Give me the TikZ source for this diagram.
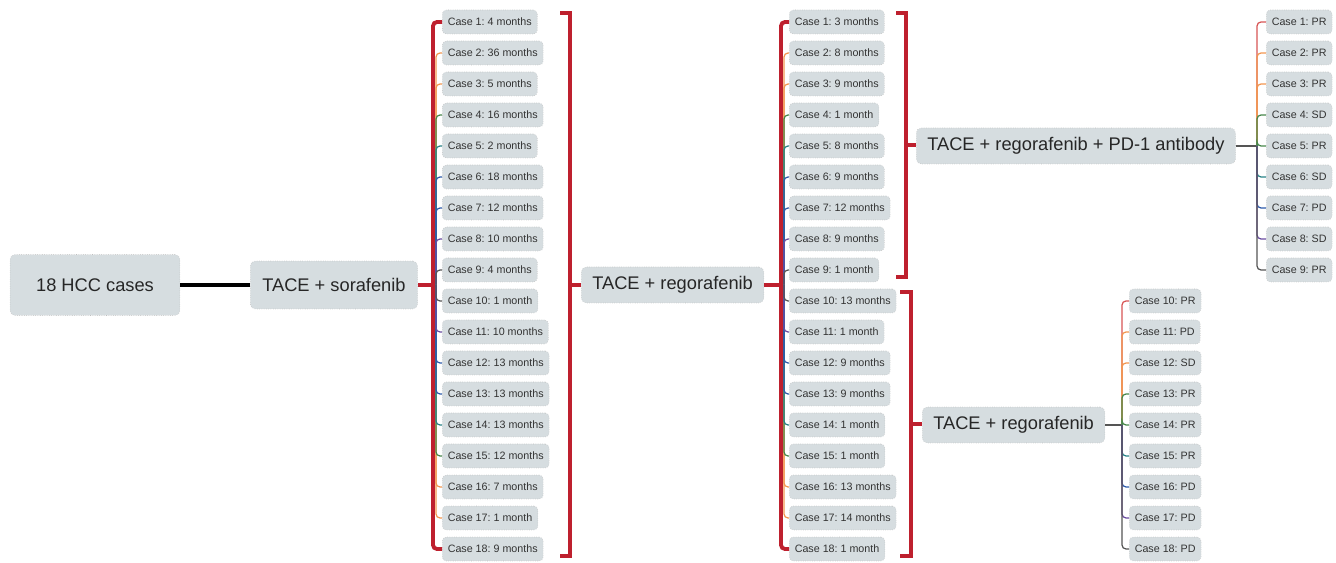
\documentclass[tikz,border=0pt]{standalone}
\usepackage{fontspec}
\setmainfont{Liberation Sans}
\frenchspacing

\definecolor{boxfill}{RGB}{214,221,224}
\definecolor{braceRed}{RGB}{190,32,46}
\definecolor{brRed}{RGB}{215,85,85}
\definecolor{brOrange}{RGB}{242,150,80}
\definecolor{brGreen}{RGB}{70,135,75}
\definecolor{brTeal}{RGB}{40,130,135}
\definecolor{brBlue}{RGB}{45,90,170}
\definecolor{brPurple}{RGB}{105,75,160}
\definecolor{brGray}{RGB}{85,85,85}

\tikzset{
    bigbox/.style={draw=gray!50, densely dotted, line width=0.3pt, fill=boxfill, rounded corners=0.1cm,
        font=\fontsize{10.4}{12}\selectfont, text=black!85, inner xsep=0.22cm, minimum height=0.72cm},
    casebox/.style={draw=gray!50, densely dotted, line width=0.3pt, fill=boxfill, rounded corners=0.08cm,
        font=\fontsize{6.1}{7}\selectfont, text=black!80, inner xsep=0.11cm, minimum height=0.48cm, anchor=west},
    redline/.style={draw=braceRed, line width=2.2pt},
    branch/.style={line width=0.7pt, rounded corners=0.08cm},
}

\begin{document}
\begin{tikzpicture}[x=0.02cm, y=-0.02cm]
    \useasboundingbox (0,0) rectangle (1336,563);

    % Root and first line treatment
    \node [bigbox, minimum width=3.4cm, minimum height=1.22cm] (hcc) at (95,285) {18 HCC cases};
    \node [bigbox, anchor=west, minimum height=0.96cm, inner xsep=0.24cm] (sor) at (250,285) {TACE + sorafenib};
    \draw [line width=2pt] (hcc) -- (sor);

    % Sorafenib: time per case
    \foreach \m [count=\k] in {4 months,36 months,5 months,16 months,2 months,18 months,12 months,10 months,4 months,1 month,10 months,13 months,13 months,13 months,12 months,7 months,1 month,9 months}
        \node [casebox] (sor\k) at (442,{22+31*(\k-1)}) {Case \k: \m};
    \coordinate (sorT) at (433,285);
    \coordinate (sorJ) at (436,285);
    \draw [redline] (sor.east) -- (sorT);
    \draw [redline, rounded corners=0.08cm] (sor1.west) -| (sorT) |- (sor18.west);
    \foreach \k/\c in {2/brOrange,3/brOrange,4/brGreen,5/brTeal,6/brBlue,7/brBlue,8/brPurple,9/brGray,17/brOrange,16/brOrange,15/brGreen,14/brTeal,13/brBlue,12/brBlue,11/brPurple,10/brGray}
        \draw [branch, \c] (sorJ) |- (sor\k.west);

    % Bracket to second line
    \coordinate (sorBt) at (560,13);
    \coordinate (sorBm) at (570,285);
    \coordinate (sorBb) at (560,556);
    \draw [redline] (sorBt) -| (sorBm) |- (sorBb);
    \node [bigbox, anchor=west] (reg) at (581,285) {TACE + regorafenib};
    \draw [redline] (sorBm) -- (reg);

    % Regorafenib: time per case
    \foreach \m [count=\k] in {3 months,8 months,9 months,1 month,8 months,9 months,12 months,9 months,1 month,13 months,1 month,9 months,9 months,1 month,1 month,13 months,14 months,1 month}
        \node [casebox] (reg\k) at (789,{22+31*(\k-1)}) {Case \k: \m};
    \coordinate (regT) at (781,285);
    \coordinate (regJ) at (784,285);
    \draw [redline] (reg.east) -- (regT);
    \draw [redline, rounded corners=0.08cm] (reg1.west) -| (regT) |- (reg18.west);
    \foreach \k/\c in {2/brOrange,3/brOrange,4/brGreen,5/brTeal,6/brBlue,7/brBlue,8/brPurple,9/brGray,17/brOrange,16/brOrange,15/brGreen,14/brTeal,13/brBlue,12/brBlue,11/brPurple,10/brGray}
        \draw [branch, \c] (regJ) |- (reg\k.west);

    % Brackets to third line
    \coordinate (pdBt) at (896,13);
    \coordinate (pdBm) at (906,145);
    \coordinate (pdBb) at (896,277);
    \draw [redline] (pdBt) -| (pdBm) |- (pdBb);
    \coordinate (rgBt) at (900,292);
    \coordinate (rgBm) at (911,424);
    \coordinate (rgBb) at (900,556);
    \draw [redline] (rgBt) -| (rgBm) |- (rgBb);

    \node [bigbox, anchor=west] (pd) at (916,146) {TACE + regorafenib + PD-1 antibody};
    \node [bigbox, anchor=west] (rg) at (922,425) {TACE + regorafenib};
    \draw [redline] (pdBm) -- (pd.west |- pdBm);
    \draw [redline] (rgBm) -- (rg.west |- rgBm);

    % Responses, cases 1-9
    \foreach \r [count=\k] in {PR,PR,PR,SD,PR,SD,PD,SD,PR}
        \node [casebox] (pdr\k) at (1266,{22+31*(\k-1)}) {Case \k: \r};
    \coordinate (pdJ) at (1257,146);
    \draw [brGray, line width=0.7pt] (pd.east) -- (pdJ);
    \foreach \k/\c in {1/brRed,2/brOrange,3/brOrange,4/brGreen,5/brGreen,6/brTeal,7/brBlue,8/brPurple,9/brGray}
        \draw [branch, \c] (pdJ) |- (pdr\k.west);

    % Responses, cases 10-18
    \foreach \r [count=\k from 10] in {PR,PD,SD,PR,PR,PR,PD,PD,PD}
        \node [casebox] (rgr\k) at (1129,{22+31*(\k-1)}) {Case \k: \r};
    \coordinate (rgJ) at (1122,425);
    \draw [brGray, line width=0.7pt] (rg.east) -- (rgJ);
    \foreach \k/\c in {10/brRed,11/brOrange,12/brOrange,13/brGreen,14/brGreen,15/brTeal,16/brBlue,17/brPurple,18/brGray}
        \draw [branch, \c] (rgJ) |- (rgr\k.west);

\end{tikzpicture}
\end{document}
